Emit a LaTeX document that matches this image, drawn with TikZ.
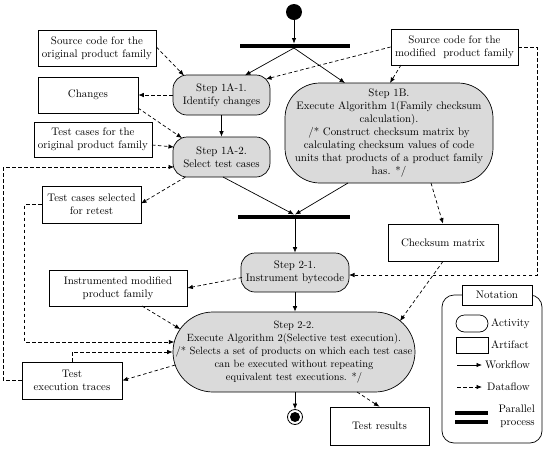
\documentclass[tikz,border=0pt]{standalone}
\usetikzlibrary{arrows.meta,calc}
\definecolor{actgray}{HTML}{DADADA}
\begin{document}
\begin{tikzpicture}[x=1pt,y=-1pt,
  font=\fontsize{10.9}{13}\selectfont,
  art/.style={draw, fill=white, align=center, inner sep=1pt, line width=0.7pt},
  act/.style={draw, fill=actgray, align=center, rounded corners=14pt, inner sep=1pt, line width=0.7pt},
  flow/.style={-{Latex[length=5.5pt,width=4.5pt]}, line width=0.7pt},
  data/.style={flow, dash pattern=on 3.5pt off 2.5pt},
  barnode/.style={fill=black, inner sep=0pt, minimum height=4.5pt}]
\useasboundingbox (0,0) rectangle (550,451);

% control nodes
\node[circle, fill=black, minimum size=16pt, inner sep=0pt] (start) at (294,12) {};
\node[barnode, minimum width=110pt] (bar1) at (295,46) {};
\node[barnode, minimum width=112pt] (bar2) at (294,217) {};
\node[circle, draw, line width=0.8pt, minimum size=15pt, inner sep=0pt] (end) at (295,417) {};
\node[circle, fill=black, minimum size=10pt, inner sep=0pt] (endin) at (end) {};

% artifacts
\node[art, minimum width=118pt, minimum height=36pt] (orig) at (97,48) {Source code for the\\original product family};
\node[art, minimum width=100pt, minimum height=36pt] (changes) at (88,95) {Changes};
\node[art, minimum width=118pt, minimum height=35pt] (tcorig) at (93,139.5) {Test cases for the\\original product family};
\node[art, minimum width=99pt, minimum height=37pt] (tcsel) at (91.5,204.5) {Test cases selected\\for retest};
\node[art, minimum width=127pt, minimum height=36pt] (mod) at (454.5,47) {Source code for the\\modified\ \ product family};
\node[art, minimum width=110pt, minimum height=37pt] (chk) at (443,242.5) {Checksum matrix};
\node[art, minimum width=138pt, minimum height=36pt] (inst) at (118,288) {Instrumented modified\\product family};
\node[art, minimum width=100pt, minimum height=37pt] (trace) at (72,380.5) {Test\\execution traces};
\node[art, minimum width=99pt, minimum height=38pt] (results) at (379.5,426) {Test results};

% activities
\node[act, minimum width=97pt, minimum height=40pt] (s1a1) at (221.5,95) {Step 1A-1.\\Identify changes};
\node[act, minimum width=97pt, minimum height=40pt] (s1a2) at (221.5,157) {Step 1A-2.\\Select test cases};
\node[act, rounded corners=35pt, minimum width=208pt, minimum height=100pt] (s1b) at (389,133)
  {Step 1B.\\Execute Algorithm 1(Family checksum\\calculation).\\/* Construct checksum matrix by\\calculating checksum values of code\\units that products of a product family\\has. */};
\node[act, minimum width=108pt, minimum height=39pt] (s21) at (295,272.5) {Step 2-1.\\Instrument bytecode};
\node[act, rounded corners=40pt, minimum width=242pt, minimum height=80pt, font=\fontsize{10.5}{13}\selectfont] (s22) at (294,352)
  {Step 2-2.\\Execute Algorithm 2(Selective test execution).\\/* Selects a set of products on which each test case\\can be executed without repeating\\equivalent test executions. */};

% workflow
\draw[flow] (start.south) -- (start.south |- bar1.north);
\draw[flow] ($(bar1)+(-1,2)$) -- ($(s1a1)+(23.5,-19.7)$);
\draw[flow] ($(bar1)+(-1,2)$) -- ($(s1b)+(-44,-50)$);
\draw[flow] (s1a1.south) -- (s1a2.north);
\draw[flow] ($(s1a2)+(1.5,20)$) -- ($(bar2)+(0,-2.5)$);
\draw[flow] ($(s1b)+(-41,50)$) -- ($(bar2)+(1,-2.5)$);
\draw[flow] (s21.north |- bar2.south) -- (s21.north);
\draw[flow] (s21.south) -- (s21.south |- s22.north);
\draw[flow] (s22.south -| end.north) -- (end.north);

% dataflow
\draw[data] ($(orig.east)+(0,-1)$) -- ($(s1a1)+(-37.5,-19.5)$);
\draw[data] (mod.west) -- ($(s1a1)+(44.5,-16)$);
\draw[data] ($(mod)+(-53.5,18)$) -- ($(s1b)+(1,-50)$);
\draw[data] (mod.east) -- ++(19,0) |- ($(s21)+(54,2.5)$);
\draw[data] (s1a1.west) -- (changes.east);
\draw[data] ($(changes)+(50,13)$) -- ($(s1a2)+(-39.5,-19)$);
\draw[data] ($(tcorig)+(59,5.5)$) -- ($(s1a2)+(-47.5,-10)$);
\draw[data] ($(s1a2)+(-36,20)$) -- ($(tcsel)+(49.5,-1)$);
\draw[data] (trace.west) -- ++(-18,0) |- ($(s1a2)+(-47.5,10)$);
\draw[data] (tcsel.west) -- ++(-17,0) |- ($(s22)+(-119.7,-10)$);
\draw[data] (trace.north) |- (s22.west);
\draw[data] ($(s22)+(-118.8,13)$) -- (trace.east);
\draw[data] ($(s1b)+(42,50)$) -- (chk.north);
\draw[data] (chk.south) -- ($(s22)+(106,-31)$);
\draw[data] ($(s21)+(-53,5)$) -- (inst.east);
\draw[data] ($(inst)+(24,18)$) -- ($(s22)+(-113.8,-22.9)$);
\draw[data] ($(s22)+(63,40)$) -- (results.north);

% notation panel
\node[draw, line width=0.7pt, rounded corners=12pt, minimum width=100pt, minimum height=148pt] (panel) at (492,369) {};
\node[art, minimum width=70pt, minimum height=20pt] (nottitle) at (497,295) {Notation};
\node[draw, line width=0.7pt, rounded corners=8.5pt, minimum width=32pt, minimum height=17pt, inner sep=0pt] (lgact) at (472,323.5) {};
\node[anchor=west, inner sep=0pt] (lgactt) at (491,323.5) {Activity};
\node[draw, line width=0.7pt, minimum width=32pt, minimum height=16pt, inner sep=0pt] (lgart) at (472,345) {};
\node[anchor=west, inner sep=0pt] (lgartt) at (491,345) {Artifact};
\coordinate (wf1) at (457,365);
\coordinate (wf2) at (482,365);
\draw[flow] (wf1) -- (wf2);
\node[anchor=west, inner sep=0pt] (lgwf) at (485,365) {Workflow};
\coordinate (df1) at (457,387);
\coordinate (df2) at (482,387);
\draw[data] (df1) -- (df2);
\node[anchor=west, inner sep=0pt] (lgdf) at (487,387) {Dataflow};
\node[barnode, minimum width=33pt] (lgb1) at (471.5,413) {};
\node[barnode, minimum width=33pt] (lgb2) at (471.5,422) {};
\node[anchor=east, align=right, inner sep=0pt] (lgpp) at (535,416) {Parallel\\process};
\end{tikzpicture}
\end{document}
